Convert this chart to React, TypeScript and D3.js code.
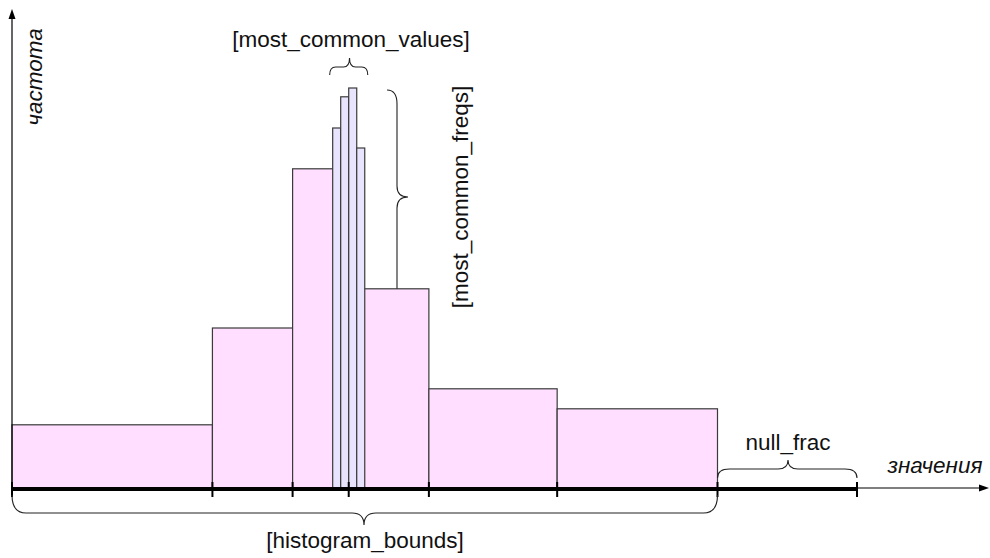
import React from "react";
import * as d3 from "d3";

// histogram bin edges (value units) and bin frequencies
const histogramBounds = [0, 25, 35, 42, 52, 68, 88];
const binFreqs = [15.8, 40, 79.8, 49.8, 24.8, 19.8];
// most common values (bar centres) and their frequencies
const mcvValues = [40.5, 41.5, 42.5, 43.5];
const mcvFreqs = [90, 97.8, 100, 85];
const mcvWidth = 1;
// null section end
const nullEnd = 105.4;
const tickValues = [0, 25, 35, 42, 52, 68, 88, 105.4];

const W = 990;
const H = 558;
const FONT = "'Liberation Sans', Arial, sans-serif";

function hBrace(x1: number, x2: number, xm: number, yEnd: number, yFlat: number, yTip: number, r1: number, r2: number) {
  return [
    `M${x1},${yEnd}`,
    `Q${x1},${yFlat} ${x1 + r1},${yFlat}`,
    `L${xm - r2},${yFlat}`,
    `Q${xm},${yFlat} ${xm},${yTip}`,
    `Q${xm},${yFlat} ${xm + r2},${yFlat}`,
    `L${x2 - r1},${yFlat}`,
    `Q${x2},${yFlat} ${x2},${yEnd}`,
  ].join(" ");
}

export default function App() {
  const x = d3.scaleLinear().domain([0, nullEnd]).range([12, 857]);
  const y = d3.scaleLinear().domain([0, 100]).range([488, 88]);
  const base = y(0);

  const bins = binFreqs.map((f, i) => ({ x0: histogramBounds[i], x1: histogramBounds[i + 1], f }));
  const mcv = mcvValues.map((v, i) => ({ x0: v - mcvWidth / 2, x1: v + mcvWidth / 2, f: mcvFreqs[i] }));

  const mcvL = x(mcv[0].x0);
  const mcvR = x(mcv[mcv.length - 1].x1);
  const freqX = 397;
  const bin4Top = y(binFreqs[3]);

  return (
    <svg width={W} height={H} style={{ position: "absolute", left: 0, top: 0 }}>
      <rect x={0} y={0} width={W} height={H} fill="#fff" />
      {bins.map((b, i) => (
        <rect
          key={"b" + i}
          x={x(b.x0)}
          y={y(b.f)}
          width={x(b.x1) - x(b.x0)}
          height={base - y(b.f)}
          fill="#ffdeff"
          stroke="#3a3a3a"
          strokeWidth={1.2}
        />
      ))}
      {mcv.map((b, i) => (
        <rect
          key={"m" + i}
          x={x(b.x0)}
          y={y(b.f)}
          width={x(b.x1) - x(b.x0)}
          height={base - y(b.f)}
          fill="#e9e4fd"
          stroke="#3a3a3a"
          strokeWidth={1.2}
        />
      ))}

      {/* y axis */}
      <line x1={12} y1={base} x2={12} y2={18} stroke="#000" strokeWidth={1.2} />
      <path d="M12,9 L8.5,19 L15.5,19 Z" fill="#000" />
      {/* x axis thin part */}
      <line x1={x(nullEnd)} y1={base} x2={980} y2={base} stroke="#000" strokeWidth={1.2} />
      <path d="M989,488 L979,484.5 L979,491.5 Z" fill="#000" />
      {/* thick part */}
      <line x1={12} y1={base + 1} x2={x(nullEnd)} y2={base + 1} stroke="#000" strokeWidth={4} />
      {tickValues.map((t, i) => (
        <line key={"t" + i} x1={x(t)} y1={482} x2={x(t)} y2={497} stroke="#000" strokeWidth={2} />
      ))}

      {/* braces */}
      <path d={hBrace(mcvL - 3, mcvR + 3, x(42.1), 75, 67, 58, 6, 6)} fill="none" stroke="#222" strokeWidth={1.1} />
      <path d={hBrace(x(88), x(nullEnd), 788, 478, 469, 460, 12, 10)} fill="none" stroke="#222" strokeWidth={1.1} />
      <path d={hBrace(12, x(88), 364, 495, 513, 525, 14, 12)} fill="none" stroke="#222" strokeWidth={1.1} />
      <path
        d={`M387,90 Q${freqX},90 ${freqX},104 L${freqX},186 Q${freqX},197 408,197 Q${freqX},197 ${freqX},208 L${freqX},${bin4Top}`}
        fill="none"
        stroke="#222"
        strokeWidth={1.1}
      />

      {/* texts */}
      <g fontFamily={FONT} fontSize={22.5} fill="#111">
        <text x={351} y={47} textAnchor="middle">[most_common_values]</text>
        <text transform="translate(468,197) rotate(-90)" textAnchor="middle">[most_common_freqs]</text>
        <text x={788} y={450} textAnchor="middle">null_frac</text>
        <text x={365} y={548} textAnchor="middle">[histogram_bounds]</text>
        <text x={935} y={473} textAnchor="middle" fontStyle="italic">значения</text>
        <text transform="translate(42,77) rotate(-90)" textAnchor="middle" fontStyle="italic">частота</text>
      </g>
    </svg>
  );
}
